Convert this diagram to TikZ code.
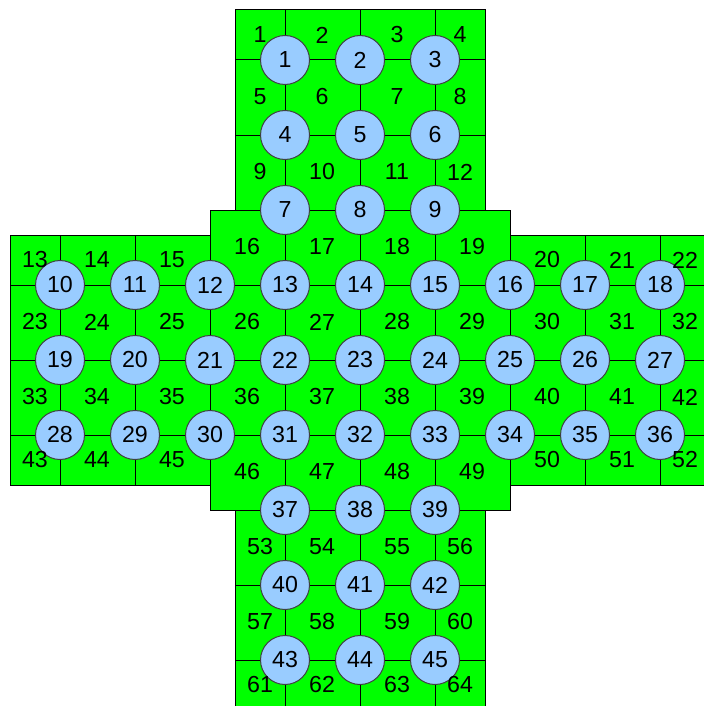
\documentclass[tikz,border=0pt]{standalone}
\usepackage{fontspec}
\setmainfont{Liberation Sans}
\usepackage{xcolor}
\usepackage{tikz}
\usetikzlibrary{positioning}

\definecolor{boardgreen}{HTML}{00FF00}
\definecolor{pegblue}{HTML}{99CCFF}

\begin{document}
\begin{tikzpicture}[
			x=0.5pt, y=-0.5pt,
			every node/.style={font=\fontsize{11.6}{13}\selectfont},
			board/.style={draw=black, fill=boardgreen, line width=0.5pt},
			gridline/.style={draw=black, line width=0.5pt},
			peg/.style={circle, draw=black!75, fill=pegblue, line width=0.5pt, minimum size=24.5pt, inner sep=0pt},
			cell/.style={inner sep=0pt}
			]
			
			\useasboundingbox (0,0) rectangle (703,706);
			
			% Tablero en cruz
			\path[board] (235,10) rectangle (485,210);
			\path[board] (10,235) rectangle (210,485);
			\path[board] (510,235) rectangle (710,485);
			\path[board] (235,510) rectangle (485,710);
			\path[board] (210,210) rectangle (510,510);
			
			% Lineas de la cuadricula
			\draw[gridline] (235,60) -- (485,60);
			\draw[gridline] (235,135) -- (485,135);
			\draw[gridline] (10,285) -- (710,285);
			\draw[gridline] (10,360) -- (710,360);
			\draw[gridline] (10,435) -- (710,435);
			\draw[gridline] (235,585) -- (485,585);
			\draw[gridline] (235,660) -- (485,660);
			\draw[gridline] (285,10) -- (285,710);
			\draw[gridline] (360,10) -- (360,710);
			\draw[gridline] (435,10) -- (435,710);
			\draw[gridline] (60,235) -- (60,485);
			\draw[gridline] (135,235) -- (135,485);
			\draw[gridline] (585,235) -- (585,485);
			\draw[gridline] (660,235) -- (660,485);
			
			% Fichas
			\node[peg] (p1) at (285,60) {1};
			\node[peg] (p2) at (360,60) {2};
			\node[peg] (p3) at (435,60) {3};
			\node[peg] (p4) at (285,135) {4};
			\node[peg] (p5) at (360,135) {5};
			\node[peg] (p6) at (435,135) {6};
			\node[peg] (p7) at (285,210) {7};
			\node[peg] (p8) at (360,210) {8};
			\node[peg] (p9) at (435,210) {9};
			\node[peg] (p10) at (60,285) {10};
			\node[peg] (p11) at (135,285) {11};
			\node[peg] (p12) at (210,285) {12};
			\node[peg] (p13) at (285,285) {13};
			\node[peg] (p14) at (360,285) {14};
			\node[peg] (p15) at (435,285) {15};
			\node[peg] (p16) at (510,285) {16};
			\node[peg] (p17) at (585,285) {17};
			\node[peg] (p18) at (660,285) {18};
			\node[peg] (p19) at (60,360) {19};
			\node[peg] (p20) at (135,360) {20};
			\node[peg] (p21) at (210,360) {21};
			\node[peg] (p22) at (285,360) {22};
			\node[peg] (p23) at (360,360) {23};
			\node[peg] (p24) at (435,360) {24};
			\node[peg] (p25) at (510,360) {25};
			\node[peg] (p26) at (585,360) {26};
			\node[peg] (p27) at (660,360) {27};
			\node[peg] (p28) at (60,435) {28};
			\node[peg] (p29) at (135,435) {29};
			\node[peg] (p30) at (210,435) {30};
			\node[peg] (p31) at (285,435) {31};
			\node[peg] (p32) at (360,435) {32};
			\node[peg] (p33) at (435,435) {33};
			\node[peg] (p34) at (510,435) {34};
			\node[peg] (p35) at (585,435) {35};
			\node[peg] (p36) at (660,435) {36};
			\node[peg] (p37) at (285,510) {37};
			\node[peg] (p38) at (360,510) {38};
			\node[peg] (p39) at (435,510) {39};
			\node[peg] (p40) at (285,585) {40};
			\node[peg] (p41) at (360,585) {41};
			\node[peg] (p42) at (435,585) {42};
			\node[peg] (p43) at (285,660) {43};
			\node[peg] (p44) at (360,660) {44};
			\node[peg] (p45) at (435,660) {45};
			
			% Numeros de las casillas
			\node[cell] (c1) at (260,35) {1};
			\node[cell] (c2) at (322,35) {2};
			\node[cell] (c3) at (397,35) {3};
			\node[cell] (c4) at (460,35) {4};
			\node[cell] (c5) at (260,97) {5};
			\node[cell] (c6) at (322,97) {6};
			\node[cell] (c7) at (397,97) {7};
			\node[cell] (c8) at (460,97) {8};
			\node[cell] (c9) at (260,172) {9};
			\node[cell] (c10) at (322,172) {10};
			\node[cell] (c11) at (397,172) {11};
			\node[cell] (c12) at (460,172) {12};
			\node[cell] (c13) at (35,260) {13};
			\node[cell] (c14) at (97,260) {14};
			\node[cell] (c15) at (172,260) {15};
			\node[cell] (c16) at (247,247) {16};
			\node[cell] (c17) at (322,247) {17};
			\node[cell] (c18) at (397,247) {18};
			\node[cell] (c19) at (472,247) {19};
			\node[cell] (c20) at (547,260) {20};
			\node[cell] (c21) at (622,260) {21};
			\node[cell] (c22) at (685,260) {22};
			\node[cell] (c23) at (35,322) {23};
			\node[cell] (c24) at (97,322) {24};
			\node[cell] (c25) at (172,322) {25};
			\node[cell] (c26) at (247,322) {26};
			\node[cell] (c27) at (322,322) {27};
			\node[cell] (c28) at (397,322) {28};
			\node[cell] (c29) at (472,322) {29};
			\node[cell] (c30) at (547,322) {30};
			\node[cell] (c31) at (622,322) {31};
			\node[cell] (c32) at (685,322) {32};
			\node[cell] (c33) at (35,397) {33};
			\node[cell] (c34) at (97,397) {34};
			\node[cell] (c35) at (172,397) {35};
			\node[cell] (c36) at (247,397) {36};
			\node[cell] (c37) at (322,397) {37};
			\node[cell] (c38) at (397,397) {38};
			\node[cell] (c39) at (472,397) {39};
			\node[cell] (c40) at (547,397) {40};
			\node[cell] (c41) at (622,397) {41};
			\node[cell] (c42) at (685,397) {42};
			\node[cell] (c43) at (35,460) {43};
			\node[cell] (c44) at (97,460) {44};
			\node[cell] (c45) at (172,460) {45};
			\node[cell] (c46) at (247,472) {46};
			\node[cell] (c47) at (322,472) {47};
			\node[cell] (c48) at (397,472) {48};
			\node[cell] (c49) at (472,472) {49};
			\node[cell] (c50) at (547,460) {50};
			\node[cell] (c51) at (622,460) {51};
			\node[cell] (c52) at (685,460) {52};
			\node[cell] (c53) at (260,547) {53};
			\node[cell] (c54) at (322,547) {54};
			\node[cell] (c55) at (397,547) {55};
			\node[cell] (c56) at (460,547) {56};
			\node[cell] (c57) at (260,622) {57};
			\node[cell] (c58) at (322,622) {58};
			\node[cell] (c59) at (397,622) {59};
			\node[cell] (c60) at (460,622) {60};
			\node[cell] (c61) at (260,685) {61};
			\node[cell] (c62) at (322,685) {62};
			\node[cell] (c63) at (397,685) {63};
			\node[cell] (c64) at (460,685) {64};
			
		\end{tikzpicture}
\end{document}
